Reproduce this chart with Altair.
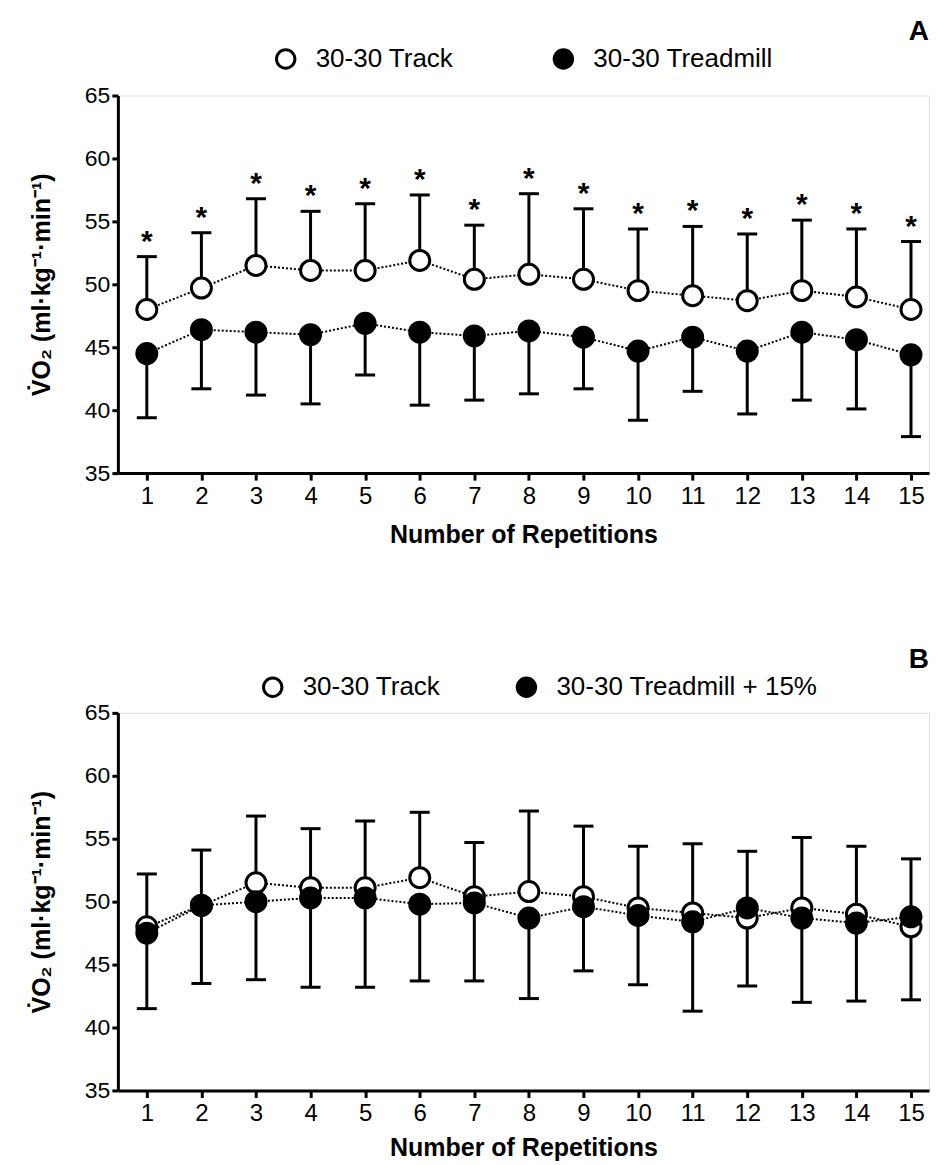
import altair as alt
import pandas as pd

reps = list(range(1, 16))
track_mean = [48.0, 49.7, 51.5, 51.1, 51.1, 51.9, 50.4, 50.8, 50.4, 49.5, 49.1, 48.7, 49.5, 49.0, 48.0]
track_upper = [52.2, 54.1, 56.8, 55.8, 56.4, 57.1, 54.7, 57.2, 56.0, 54.4, 54.6, 54.0, 55.1, 54.4, 53.4]
tread_mean = [44.5, 46.4, 46.2, 46.0, 46.9, 46.2, 45.9, 46.3, 45.8, 44.7, 45.8, 44.7, 46.2, 45.6, 44.4]
tread_lower = [39.4, 41.7, 41.2, 40.5, 42.8, 40.4, 40.8, 41.3, 41.7, 39.2, 41.5, 39.7, 40.8, 40.1, 37.9]
tread15_mean = [47.5, 49.7, 50.0, 50.3, 50.3, 49.8, 49.9, 48.7, 49.6, 48.9, 48.4, 49.5, 48.7, 48.3, 48.8]
tread15_lower = [41.5, 43.5, 43.8, 43.2, 43.2, 43.7, 43.7, 42.3, 44.5, 43.4, 41.3, 43.3, 42.0, 42.1, 42.2]

TRACK = "30-30 Track"
TREAD_A = "30-30 Treadmill"
TREAD_B = "30-30 Treadmill + 15%"

FONT = "Liberation Sans"
W, H = 812, 378
YTITLE = "V\u0307O\u2082 (ml\u00b7kg\u207b\u00b9\u00b7min\u207b\u00b9)"


def panel(letter, tread_name, t_mean, t_lower, stars, lx, ly, colpad, xtitle_pad):
    df_track = pd.DataFrame({"rep": reps, "mean": track_mean, "err": track_upper, "series": TRACK})
    df_tread = pd.DataFrame({"rep": reps, "mean": t_mean, "err": t_lower, "series": tread_name})
    df = pd.concat([df_track, df_tread], ignore_index=True)

    xs = alt.X("rep:Q", scale=alt.Scale(domain=[0.47, 15.33], nice=False, zero=False),
               axis=alt.Axis(values=reps, title="Number of Repetitions", format="d",
                             grid=False, domainWidth=3, domainColor="black", tickWidth=3,
                             tickColor="black", tickSize=7, labelFontSize=24, labelPadding=4,
                             labelColor="black", titleFontSize=25, titleFontWeight="bold",
                             titleColor="black", titlePadding=xtitle_pad, labelFont=FONT, titleFont=FONT))
    ys = alt.Y("mean:Q", scale=alt.Scale(domain=[35, 65], nice=False, zero=False),
               axis=alt.Axis(values=[35, 40, 45, 50, 55, 60, 65], title=YTITLE, grid=False,
                             domainWidth=3, domainColor="black", tickWidth=3, tickColor="black",
                             tickSize=6, labelFontSize=23, labelPadding=2, labelColor="black",
                             titleFontSize=25, titleFontWeight="bold", titleColor="black",
                             titlePadding=30, labelFont=FONT, titleFont=FONT))

    base = alt.Chart(df)
    rules = base.mark_rule(color="black", strokeWidth=3).encode(
        x=xs, y=ys, y2="err:Q")
    caps = base.mark_tick(color="black", thickness=3, size=20, orient="horizontal", opacity=1).encode(
        x="rep:Q", y="err:Q")
    lines = base.mark_line(color="black", strokeWidth=2, strokeDash=[2, 2]).encode(
        x="rep:Q", y="mean:Q", detail="series:N")
    pts = base.mark_point(shape="circle", filled=True, stroke="black", strokeWidth=3,
                          size=400, opacity=1).encode(
        x="rep:Q", y="mean:Q",
        fill=alt.Fill("series:N", scale=alt.Scale(domain=[TRACK, tread_name], range=["white", "black"]),
                      sort=[TRACK, tread_name],
                      legend=alt.Legend(orient="none", legendX=lx, legendY=ly, direction="horizontal",
                                        title=None, labelFontSize=26, labelFont=FONT, labelColor="black",
                                        symbolSize=340, symbolStrokeWidth=3, symbolStrokeColor="black",
                                        symbolType="circle", symbolOpacity=1, columnPadding=colpad,
                                        labelOffset=17, labelLimit=400)))
    layers = [rules, caps, lines, pts]
    if stars:
        star_df = pd.DataFrame({"rep": reps, "err": track_upper})
        star = alt.Chart(star_df).mark_text(text="*", fontSize=30, fontWeight="bold", font=FONT,
                                            color="black", baseline="middle", dy=-15).encode(
            x="rep:Q", y="err:Q")
        layers.append(star)
    return alt.layer(*layers).properties(
        width=W, height=H,
        title=alt.TitleParams(letter, anchor="end", frame="group", fontSize=28, fontWeight="bold",
                              font=FONT, color="black", offset=0))


pA = panel("A", TREAD_A, tread_mean, tread_lower, True, 155, -50, 94, 14)
pB = panel("B", TREAD_B, tread15_mean, tread15_lower, False, 142, -39, 70, 10)

chart = alt.vconcat(pA, pB, spacing=97).resolve_scale(fill="independent").resolve_legend(
    fill="independent").properties(
    padding={"left": 20, "top": 8, "right": 0, "bottom": 0}
).configure_view(stroke=None, strokeWidth=0).configure(background="white")

chart.save("out.html", embed_options={"renderer": "svg", "actions": False})
